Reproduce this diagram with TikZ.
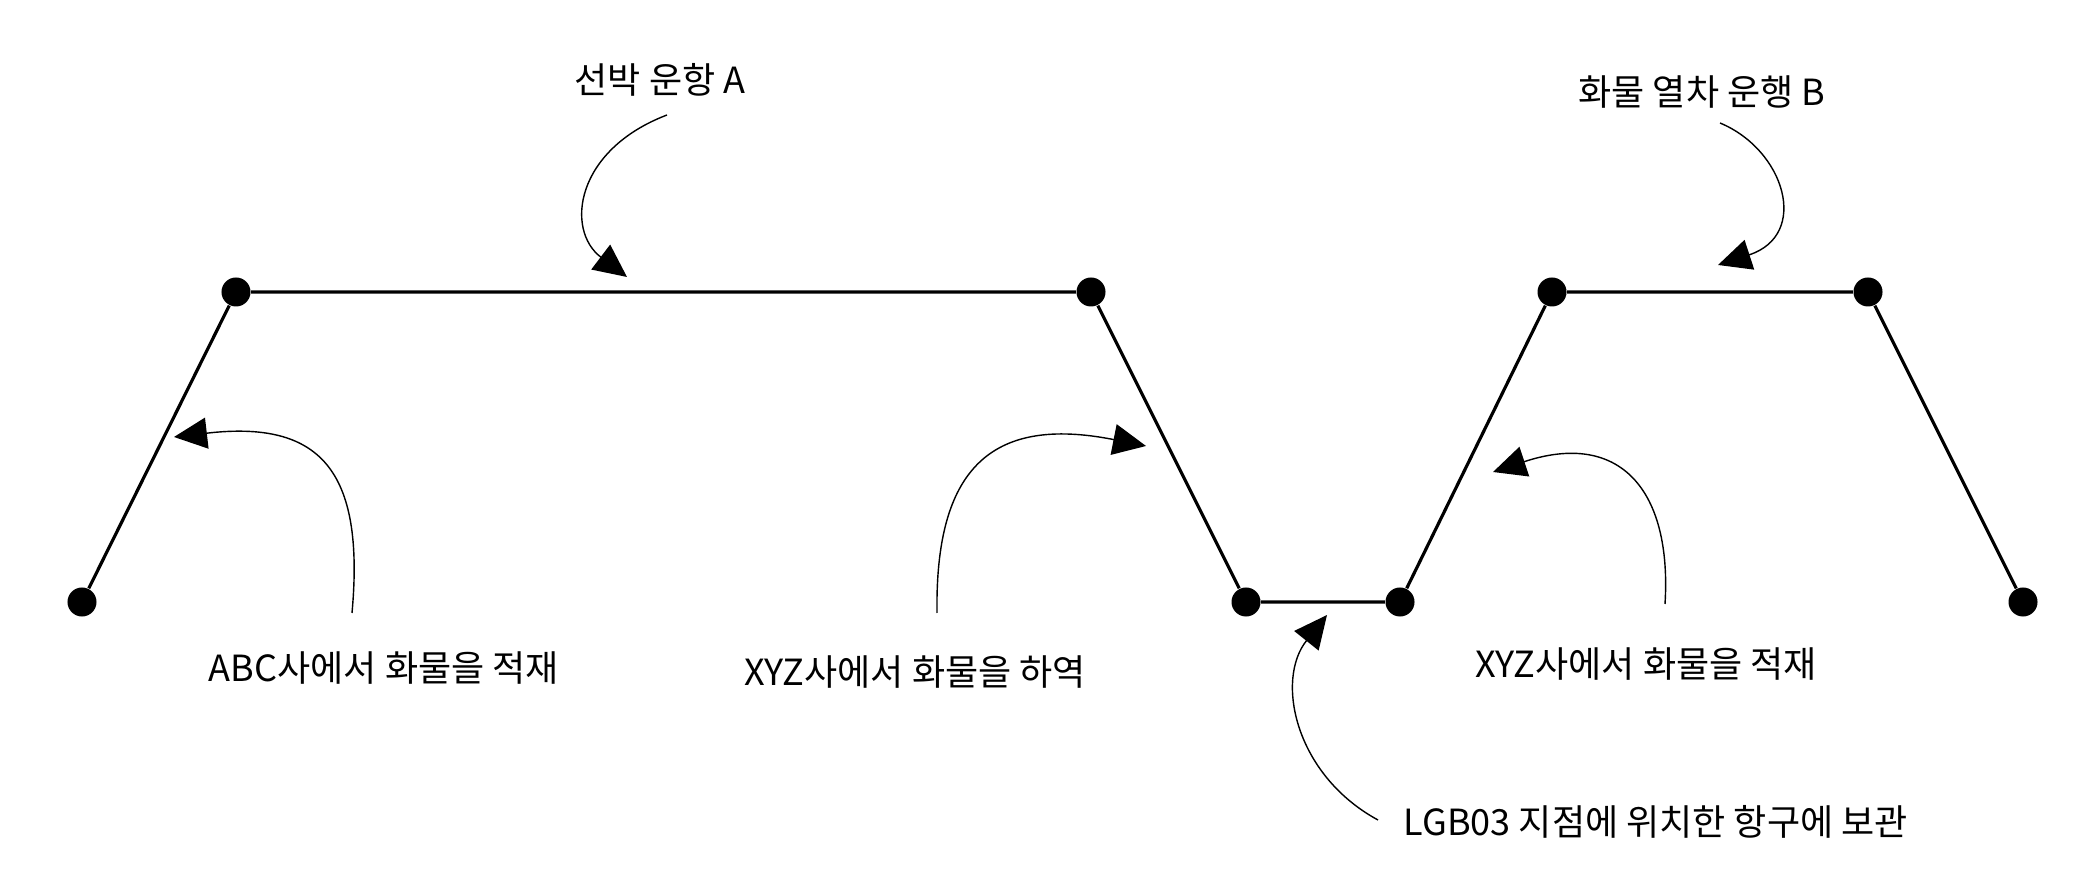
\documentclass[tikz,border=0pt]{standalone}
\usepackage{fontspec}
\setmainfont{Noto Sans CJK KR}
\usetikzlibrary{arrows.meta}
\begin{document}
\begin{tikzpicture}[x=0.01cm, y=-0.01cm,
    stop/.style={circle, fill=black, inner sep=0pt, minimum size=2.9mm},
    route/.style={line width=0.9pt},
    callout/.style={line width=0.4pt, -{Triangle[length=3.3mm, width=3.1mm]}},
    lbl/.style={font=\fontsize{10.25}{12}\selectfont, inner sep=0pt}]
  \useasboundingbox (0,0) rectangle (2088,886);
  % stops along the route
  \node[stop] (s1) at (82,602) {};
  \node[stop] (s2) at (236,292) {};
  \node[stop] (s3) at (1091,292) {};
  \node[stop] (s4) at (1246,602) {};
  \node[stop] (s5) at (1400,602) {};
  \node[stop] (s6) at (1552,292) {};
  \node[stop] (s7) at (1868,292) {};
  \node[stop] (s8) at (2023,602) {};
  \draw[route] (s1) -- (s2) -- (s3) -- (s4) -- (s5) -- (s6) -- (s7) -- (s8);
  % labels
  \node[lbl] (shipA) at (660,80) {선박 운항 A};
  \node[lbl] (trainB) at (1702,92) {화물 열차 운행 B};
  \node[lbl] (loadABC) at (384,668) {ABC사에서 화물을 적재};
  \node[lbl] (unloadXYZ) at (915,672) {XYZ사에서 화물을 하역};
  \node[lbl] (loadXYZ) at (1646,664) {XYZ사에서 화물을 적재};
  \node[lbl, anchor=west] (port) at (1403,822) {LGB03 지점에 위치한 항구에 보관};
  % callout ends
  \coordinate (shipA-t) at (667,115);   \coordinate (shipA-h) at (627,277);
  \coordinate (trainB-t) at (1720,123); \coordinate (trainB-h) at (1718,265);
  \coordinate (loadABC-t) at (352,613); \coordinate (loadABC-h) at (174,437);
  \coordinate (unloadXYZ-t) at (937,613); \coordinate (unloadXYZ-h) at (1146,446);
  \coordinate (loadXYZ-t) at (1665,604); \coordinate (loadXYZ-h) at (1493,472);
  \coordinate (port-t) at (1378,820);   \coordinate (port-h) at (1327,615);
  \draw[callout] (shipA-t) .. controls (575,150) and (565,230) .. (shipA-h);
  \draw[callout] (trainB-t) .. controls (1785,150) and (1810,235) .. (trainB-h);
  \draw[callout] (loadABC-t) .. controls (365,470) and (320,420) .. (loadABC-h);
  \draw[callout] (unloadXYZ-t) .. controls (935,470) and (990,415) .. (unloadXYZ-h);
  \draw[callout] (loadXYZ-t) .. controls (1672,490) and (1620,430) .. (loadXYZ-h);
  \draw[callout] (port-t) .. controls (1295,775) and (1275,680) .. (port-h);
\end{tikzpicture}
\end{document}
